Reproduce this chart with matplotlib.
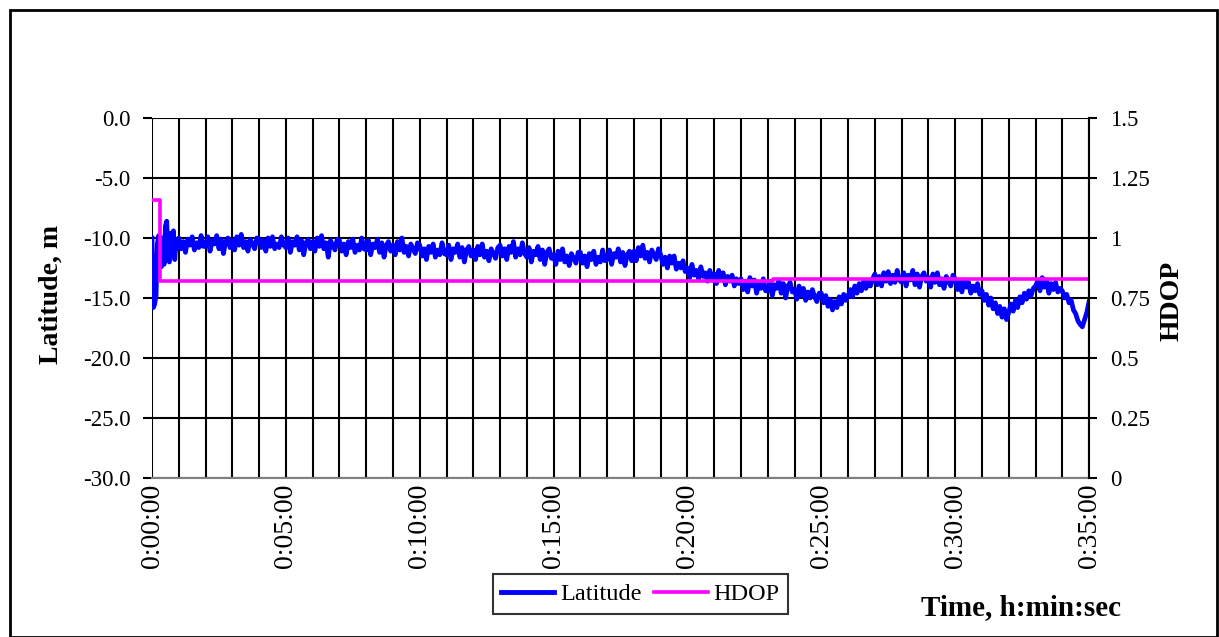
import numpy as np
import matplotlib
matplotlib.use("Agg")
import matplotlib.pyplot as plt
from matplotlib.patches import Rectangle

plt.rcParams["font.family"] = ["Liberation Serif", "DejaVu Serif"]

# %%
# Latitude error, m; first minute every 3 s, then every 5 s
t_start_s = [0, 3, 6, 9, 12, 15, 18, 21, 24, 27, 30, 33, 36, 39, 42, 45, 48, 51, 54, 57]
lat_start = [-10.0, -15.8, -15.5, -14.8, -10.5, -9.8, -11.5, -12.4, -10.0, -12.2,
             -9.0, -8.6, -11.8, -12.0, -9.6, -11.0, -9.4, -11.8, -10.2, -10.9]
lat_rest = [
    -10.0, -10.9, -10.3, -11.2, -10.1, -10.6, -9.9, -11.0, -10.4, -10.8, -9.8, -10.7,
    -10.7, -9.9, -11.1, -10.2, -10.5, -9.8, -10.9, -10.1, -11.3, -10.3, -10.0, -10.8,
    -10.2, -11.0, -9.9, -10.6, -9.7, -10.8, -10.3, -11.1, -10.1, -10.5, -10.9, -10.0,
    -10.1, -10.8, -10.2, -11.1, -10.0, -10.7, -9.9, -10.9, -10.5, -10.8, -9.9, -10.6,
    -10.8, -10.0, -11.2, -10.3, -10.6, -9.9, -11.0, -10.2, -11.4, -10.4, -10.1, -10.9,
    -10.3, -11.1, -10.0, -10.7, -9.8, -10.9, -10.4, -11.6, -10.2, -10.6, -11.0, -10.1,
    -10.2, -11.1, -10.5, -11.4, -10.3, -10.8, -10.1, -11.2, -10.6, -11.0, -10.0, -10.9,
    -11.0, -10.2, -11.4, -10.5, -10.8, -10.1, -11.2, -10.4, -11.6, -10.6, -10.3, -11.1,
    -10.6, -11.4, -10.3, -11.0, -10.0, -11.2, -10.7, -11.5, -10.5, -10.9, -11.3, -10.4,
    -10.6, -11.5, -10.9, -11.8, -10.7, -11.2, -10.5, -11.6, -11.0, -11.4, -10.4, -11.3,
    -11.4, -10.6, -11.8, -10.9, -11.2, -10.5, -11.6, -10.8, -12.0, -11.0, -10.7, -11.5,
    -11.0, -11.8, -10.7, -11.4, -10.5, -11.6, -11.1, -11.9, -10.9, -11.3, -11.7, -10.8,
    -10.6, -11.5, -10.9, -11.8, -10.7, -11.2, -10.3, -11.6, -10.9, -11.4, -10.4, -11.3,
    -11.6, -10.8, -12.0, -11.1, -11.4, -10.7, -11.8, -11.0, -12.2, -11.2, -10.9, -11.7,
    -11.4, -12.2, -11.1, -11.8, -10.9, -12.0, -11.5, -12.3, -11.3, -11.7, -12.1, -11.2,
    -11.2, -12.1, -11.5, -12.4, -11.3, -11.8, -11.1, -12.2, -11.6, -12.0, -11.0, -11.9,
    -11.8, -11.0, -12.2, -11.3, -11.6, -10.9, -12.0, -11.2, -12.3, -11.4, -11.1, -11.9,
    -11.1, -11.9, -10.8, -11.5, -10.6, -11.7, -11.2, -12.0, -11.0, -11.4, -11.8, -10.9,
    -11.4, -12.2, -11.6, -12.5, -11.5, -12.1, -11.5, -12.6, -12.1, -12.5, -11.9, -12.8,
    -12.5, -13.3, -12.2, -13.1, -12.7, -13.4, -12.4, -13.2, -12.9, -13.6, -12.7, -13.3,
    -13.0, -13.8, -12.7, -13.5, -12.9, -13.9, -13.2, -13.6, -13.1, -14.0, -13.4, -13.8,
    -13.4, -14.3, -13.6, -14.5, -13.3, -14.0, -13.5, -14.6, -13.8, -14.2, -13.4, -14.4,
    -14.4, -13.6, -14.8, -13.9, -14.2, -13.5, -14.6, -13.8, -15.0, -14.0, -13.7, -14.5,
    -14.3, -15.1, -14.0, -14.8, -14.2, -15.2, -14.5, -15.0, -14.3, -14.9, -15.3, -14.6,
    -14.6, -15.4, -14.8, -15.7, -15.1, -16.0, -15.3, -15.8, -14.9, -15.5, -14.7, -15.2,
    -14.8, -14.3, -14.9, -14.0, -14.6, -13.8, -14.4, -13.6, -14.2, -13.5, -14.0, -13.4,
    -13.0, -13.9, -13.2, -14.0, -12.9, -13.6, -12.8, -13.8, -13.1, -13.7, -12.7, -13.5,
    -13.7, -12.9, -14.0, -13.1, -13.5, -12.7, -13.9, -13.0, -14.1, -13.2, -12.9, -13.6,
    -13.3, -14.1, -13.0, -13.7, -12.9, -13.9, -13.4, -14.2, -13.2, -13.6, -14.0, -13.1,
    -13.4, -14.3, -13.6, -14.5, -13.5, -14.1, -13.7, -14.6, -14.0, -14.4, -13.8, -14.7,
    -14.4, -15.2, -14.7, -15.6, -15.0, -15.9, -15.4, -16.3, -15.7, -16.6, -15.9, -16.8,
    -16.2, -15.5, -16.1, -15.2, -15.8, -14.9, -15.4, -14.6, -15.1, -14.4, -14.8, -14.2,
    -14.0, -13.6, -14.4, -13.3, -14.1, -13.5, -14.6, -13.8, -14.3, -13.7, -14.5, -14.2,
    -14.4, -15.0, -14.7, -15.4, -15.2, -16.0, -16.3, -16.9, -17.2, -17.4, -16.8, -16.2,
    -15.3,
]
t_rest_s = list(range(60, 60 + 5 * len(lat_rest), 5))

# HDOP steps
hdop_t_min = [0, 0.3, 23.2, 35]
hdop = [1.16, 0.82, 0.83, 0.83]

xtick_min = list(range(0, 36, 5))
xtick_labels = ["0:%02d:00" % m for m in xtick_min]
left_ticks = [0, -5, -10, -15, -20, -25, -30]
right_ticks = [0, 0.25, 0.5, 0.75, 1, 1.25, 1.5]
right_labels = ["0", "0.25", "0.5", "0.75", "1", "1.25", "1.5"]

t_lat = np.array(t_start_s + t_rest_s) / 60.0
lat = np.array(lat_start + lat_rest)

# %%
fig = plt.figure(figsize=(12.19, 6.37), dpi=100)
ax = fig.add_axes([0.1247, 0.2496, 0.7687, 0.5652])
ax2 = ax.twinx()

ax.set_xlim(0, 35)
ax.set_ylim(-30, 0)
ax.set_xticks(xtick_min)
ax.set_xticklabels(xtick_labels, rotation=90, fontsize=20)
ax.set_xticks(range(0, 36), minor=True)
ax.set_yticks(left_ticks)
ax.set_yticklabels(["%.1f" % v for v in left_ticks], fontsize=16.5)
ax.grid(True, which="both", axis="x", color="black", lw=1.5)
ax.grid(True, which="major", axis="y", color="black", lw=1.5)
ax.tick_params(axis="x", which="both", length=0, pad=4)
ax.tick_params(axis="y", length=6.5, width=1.5, direction="out", pad=9)
for s in ["top", "right", "left"]:
    ax.spines[s].set_visible(False)
ax.spines["bottom"].set_color("#808080")
ax.spines["bottom"].set_linewidth(1.5)

l1, = ax.plot(t_lat, lat, color="#0000FF", lw=3.4, label="Latitude",
              solid_joinstyle="round")

ax2.set_ylim(0, 1.5)
ax2.set_yticks(right_ticks)
ax2.set_yticklabels(right_labels, fontsize=16.5)
ax2.tick_params(axis="y", length=6, width=1.5, direction="out", pad=9)
for s in ["top", "left", "bottom"]:
    ax2.spines[s].set_visible(False)
ax2.spines["right"].set_linewidth(1.5)
l2, = ax2.plot(hdop_t_min, hdop, color="#FF00FF", lw=2.6, drawstyle="steps-post",
               label="HDOP")

fig.text(0.042, 0.538, "Latitude, m", rotation=90, fontsize=20, fontweight="bold",
         ha="center", va="center")
fig.text(0.9614, 0.527, "HDOP", rotation=90, fontsize=20, fontweight="bold",
         ha="center", va="center")
fig.text(0.8375, 0.047, "Time, h:min:sec", fontsize=21, fontweight="bold",
         ha="center", va="center")

leg = fig.legend(handles=[l1, l2], loc="center", bbox_to_anchor=(0.5254, 0.0675),
                 ncol=2, fontsize=17.5, frameon=True, fancybox=False,
                 handlelength=2.2, handletextpad=0.25, columnspacing=0.5,
                 borderpad=0.35)
leg.get_frame().set_edgecolor("black")
leg.get_frame().set_linewidth(1.5)
leg.get_lines()[0].set_linewidth(3.5)

fig.patches.append(Rectangle((0.0082, 0.0), 0.99, 0.984, transform=fig.transFigure,
                             fill=False, edgecolor="black", lw=2))

fig.savefig("out.png", dpi=100)
